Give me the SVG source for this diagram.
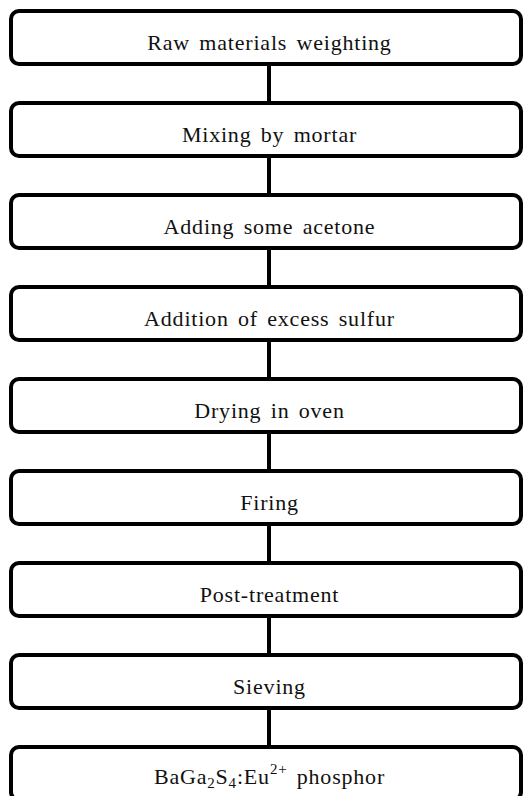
<svg xmlns="http://www.w3.org/2000/svg" width="523" height="796" viewBox="0 0 523 796">
<style>
.box{fill:#fff;stroke:#000;stroke-width:4}
.lbl{font-family:"Liberation Serif","DejaVu Serif",serif;font-size:22px;letter-spacing:0.8px;word-spacing:3px;fill:#111;text-anchor:middle}
.con{stroke:#000;stroke-width:4}
</style>
<rect width="523" height="796" fill="#fff"/>
<g id="connectors">
<line class="con" x1="269" y1="64" x2="269" y2="103"/>
<line class="con" x1="269" y1="156" x2="269" y2="195"/>
<line class="con" x1="269" y1="248" x2="269" y2="287"/>
<line class="con" x1="269" y1="340" x2="269" y2="379"/>
<line class="con" x1="269" y1="432" x2="269" y2="471"/>
<line class="con" x1="269" y1="524" x2="269" y2="563"/>
<line class="con" x1="269" y1="616" x2="269" y2="655"/>
<line class="con" x1="269" y1="708" x2="269" y2="747"/>
</g>
<g id="n1"><rect class="box" x="11" y="11" width="510" height="53" rx="8"/><text class="lbl" x="269.5" y="50">Raw materials weighting</text></g>
<g id="n2"><rect class="box" x="11" y="103" width="510" height="53" rx="8"/><text class="lbl" x="269.5" y="142">Mixing by mortar</text></g>
<g id="n3"><rect class="box" x="11" y="195" width="510" height="53" rx="8"/><text class="lbl" x="269.5" y="234">Adding some acetone</text></g>
<g id="n4"><rect class="box" x="11" y="287" width="510" height="53" rx="8"/><text class="lbl" x="269.5" y="326">Addition of excess sulfur</text></g>
<g id="n5"><rect class="box" x="11" y="379" width="510" height="53" rx="8"/><text class="lbl" x="269.5" y="418">Drying in oven</text></g>
<g id="n6"><rect class="box" x="11" y="471" width="510" height="53" rx="8"/><text class="lbl" x="269.5" y="510">Firing</text></g>
<g id="n7"><rect class="box" x="11" y="563" width="510" height="53" rx="8"/><text class="lbl" x="269.5" y="602">Post-treatment</text></g>
<g id="n8"><rect class="box" x="11" y="655" width="510" height="53" rx="8"/><text class="lbl" x="269.5" y="694">Sieving</text></g>
<g id="n9"><rect class="box" x="11" y="747" width="510" height="53" rx="8"/><text class="lbl" x="269.5" y="784">BaGa<tspan font-size="15" dy="4">2</tspan><tspan dy="-4">S</tspan><tspan font-size="15" dy="4">4</tspan><tspan dy="-4">:Eu</tspan><tspan font-size="15" dy="-10">2+</tspan><tspan dy="10"> phosphor</tspan></text></g>
</svg>
